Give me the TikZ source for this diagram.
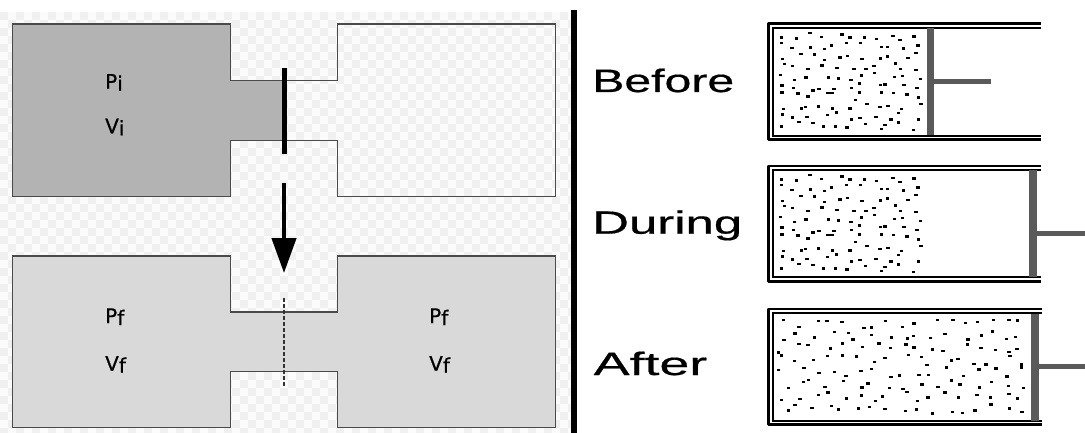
\documentclass[tikz,border=0pt]{standalone}
\usepackage{fontspec}
\usepackage{graphicx}
\usetikzlibrary{arrows.meta}
\newfontfamily\labelfont[FakeBold=0.6]{DejaVu Sans}
\newfontfamily\stagefont[FakeBold=0.5]{Liberation Sans}

\definecolor{chkdark}{HTML}{F0F0F0}
\definecolor{chklight}{HTML}{FBFBFB}
\definecolor{gasinit}{HTML}{B3B3B3}
\definecolor{gasfinal}{HTML}{D9D9D9}
\definecolor{wallgray}{HTML}{4A4A4A}
\definecolor{pistongray}{HTML}{5A5A5A}

% gas molecules scattered over a jittered grid:
% x0, y0, columns, rows, cell width, cell height, seed
\newcommand\gasdots[7]{%
  \pgfmathsetseed{#7}%
  \foreach \c in {1,...,#3}{%
    \foreach \r in {1,...,#4}{%
      \pgfmathsetmacro\px{#1+(\c-1+0.1+0.8*rnd)*#5}%
      \pgfmathsetmacro\py{#2+(\r-1+0.1+0.8*rnd)*#6}%
      \fill[black] (\px-1.7,\py-1.2) rectangle ++(3.4,2.4);
    }%
  }%
}

% cylinder with double walls: top, bottom, right end of walls
\newcommand\cylwalls[3]{%
  \draw[black, line width=2.6, line join=round]
    (#3,#1+1.3) -- (768.3,#1+1.3) -- (768.3,#2-1.3) -- (#3,#2-1.3);
  \draw[black, line width=2]
    (#3,#1+5.2) -- (772.8,#1+5.2) -- (772.8,#2-5.2) -- (#3,#2-5.2);
}

\tikzset{
  outline/.style={draw=wallgray, line width=1.1},
  statelabel/.style={inner sep=0, anchor=base west, font=\labelfont\fontsize{20}{20}\selectfont},
  stagelabel/.style={inner sep=0, anchor=base west},
  membrane/.style={line width=5, black},
  rod/.style={line width=5, pistongray},
}

\begin{document}
\begin{tikzpicture}[x=1pt, y=-1pt]
\useasboundingbox (0,0) rectangle (1085,433);
\fill[white] (0,0) rectangle (1085,433);

% transparency checkerboard behind the left panel
\begin{scope}
  \clip (0,12) rectangle (571,433);
  \fill[chklight] (0,12) rectangle (571,433);
  \foreach \i in {0,...,71}{
    \foreach \j in {0,...,53}{
      \pgfmathtruncatemacro\chk{mod(\i+\j,2)}
      \ifnum\chk=0
        \fill[chkdark] (\i*8,12+\j*8) rectangle ++(8,8);
      \fi
    }
  }
\end{scope}

% ---- initial state: gas held on the left ----
\fill[gasinit] (12.3,24) -- (230.7,24) -- (230.7,80.3) -- (284,80.3)
  -- (284,140.3) -- (230.7,140.3) -- (230.7,196.7) -- (12.3,196.7) -- cycle;
\draw[outline] (12.3,24) -- (230.7,24) -- (230.7,80.3) -- (337.3,80.3)
  -- (337.3,24) -- (555.3,24) -- (555.3,196.7) -- (337.3,196.7)
  -- (337.3,140.3) -- (230.7,140.3) -- (230.7,196.7) -- (12.3,196.7) -- cycle;
\coordinate (memtop) at (284,68);
\coordinate (membot) at (284,154.3);
\draw[membrane] (memtop) -- (membot);
\node[statelabel] (pi) at (105,88.7) {P\raisebox{-2pt}{i}};
\node[statelabel] (vi) at (105,133.3) {V\raisebox{-2pt}{i}};

% ---- transition arrow ----
\coordinate (arrstart) at (284,183);
\coordinate (arrtip) at (284,273);
\draw[black, line width=4.4, -{Triangle[length=35pt, width=24pt]}] (arrstart) -- (arrtip);

% ---- final state: gas in both chambers ----
\fill[gasfinal] (12.3,256) -- (230.7,256) -- (230.7,312) -- (337.3,312)
  -- (337.3,256) -- (555.3,256) -- (555.3,427.7) -- (337.3,427.7)
  -- (337.3,371.3) -- (230.7,371.3) -- (230.7,427.7) -- (12.3,427.7) -- cycle;
\draw[outline] (12.3,256) -- (230.7,256) -- (230.7,312) -- (337.3,312)
  -- (337.3,256) -- (555.3,256) -- (555.3,427.7) -- (337.3,427.7)
  -- (337.3,371.3) -- (230.7,371.3) -- (230.7,427.7) -- (12.3,427.7) -- cycle;
\coordinate (oldtop) at (284,298);
\coordinate (oldbot) at (284,386);
\draw[black!80, line width=1.6, dash pattern=on 3.5pt off 2.5pt] (oldtop) -- (oldbot);
\node[statelabel] (pfl) at (105,323) {P\raisebox{-2pt}{f}};
\node[statelabel] (vfl) at (105,370.7) {V\raisebox{-2pt}{f}};
\node[statelabel] (pfr) at (429,323) {P\raisebox{-2pt}{f}};
\node[statelabel] (vfr) at (429,370.7) {V\raisebox{-2pt}{f}};

% ---- divider ----
\coordinate (divtop) at (574,10);
\coordinate (divbot) at (574,433);
\draw[black, line width=6.5] (divtop) -- (divbot);

% ---- piston cylinders ----
\node[stagelabel] (before) at (592,92)
  {\resizebox{142pt}{23.4pt}{\stagefont Before}};
\node[stagelabel] (during) at (592,233.7)
  {\resizebox{150pt}{23.4pt}{\stagefont During}};
\node[stagelabel] (after) at (593.5,375)
  {\resizebox{113.5pt}{23.4pt}{\stagefont After}};

% before
\gasdots{777}{32}{11}{10}{13.3}{9.9}{4242}
\cylwalls{22.5}{141}{1040.5}
\fill[pistongray] (927,28.5) rectangle (934.3,135.5);
\coordinate (rodA0) at (934,81.5);
\coordinate (rodA1) at (990.5,81.5);
\draw[rod] (rodA0) -- (rodA1);

% during
\gasdots{777}{174}{11}{10}{13.3}{9.9}{4242}
\cylwalls{164.8}{282.5}{1040.5}
\fill[pistongray] (1029,170.5) rectangle (1037,277);
\coordinate (rodB0) at (1037,233.5);
\coordinate (rodB1) at (1085,233.5);
\draw[rod] (rodB0) -- (rodB1);

% after
\gasdots{777}{317}{17}{8}{14.8}{12.3}{917}
\cylwalls{307.8}{426}{1041.7}
\fill[pistongray] (1031.3,313.5) rectangle (1038.5,420.5);
\coordinate (rodC0) at (1038.5,366.7);
\coordinate (rodC1) at (1085,366.7);
\draw[rod] (rodC0) -- (rodC1);
\end{tikzpicture}
\end{document}
